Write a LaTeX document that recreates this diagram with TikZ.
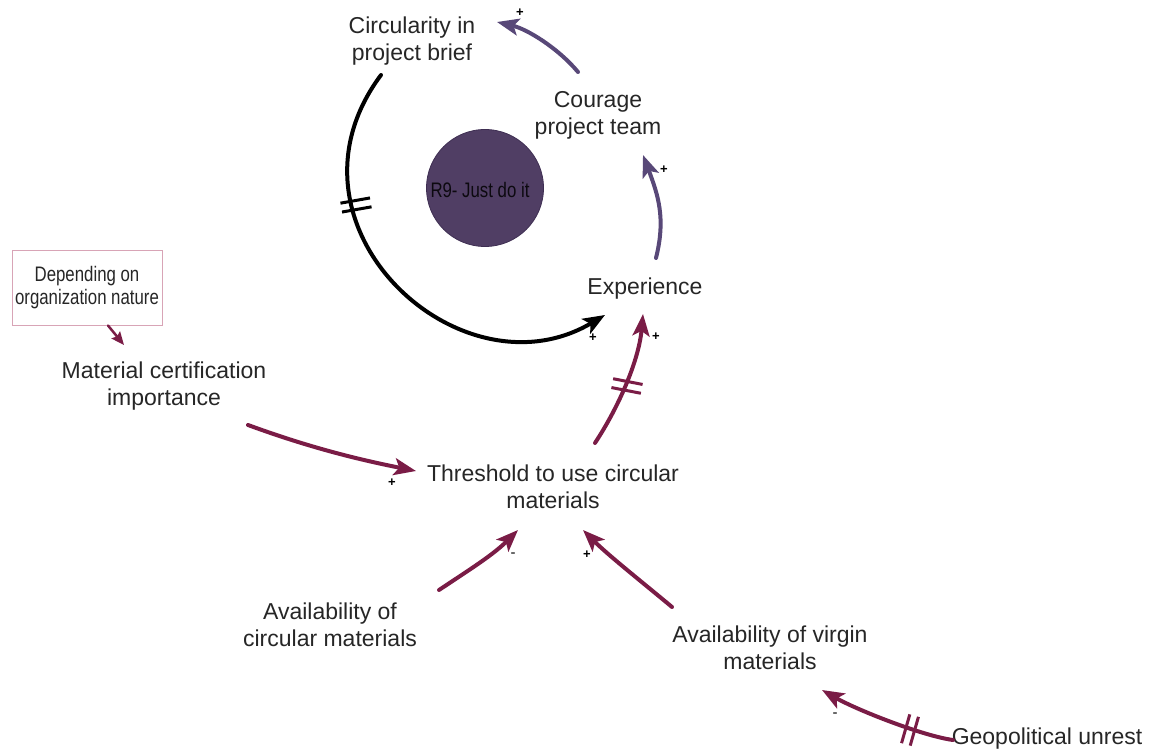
\documentclass[tikz,border=0pt]{standalone}
\usepackage{fontspec}
\setmainfont{Liberation Sans}
\newfontfamily\narrowfont[FakeStretch=0.8]{Liberation Sans}
\usetikzlibrary{arrows.meta,calc}

\definecolor{linkred}{HTML}{7A1C46}
\definecolor{linkpurple}{HTML}{584878}
\definecolor{loopfill}{HTML}{503E64}
\definecolor{loopedge}{HTML}{3E2E52}
\definecolor{notepink}{HTML}{D8A4B6}
\definecolor{labelgray}{HTML}{262626}

\tikzset{
  var/.style={align=center, inner sep=0pt, text=labelgray,
    font=\fontsize{23}{27}\selectfont},
  link/.style={line width=4pt, line cap=round,
    -{Stealth[length=22pt,width=17pt,inset=5pt]}},
  redlink/.style={link, draw=linkred},
  purplelink/.style={link, draw=linkpurple},
  blacklink/.style={link, draw=black},
  sign/.style={inner sep=0pt, font=\fontsize{13}{13}\selectfont\bfseries},
  negsign/.style={inner sep=0pt, font=\fontsize{15}{15}\selectfont},
  delaymark/.pic={
    \draw[line width=3pt, pic actions] (-15,-4.5) -- (15,-4.5) (-15,4.5) -- (15,4.5);
  }
}

\begin{document}
\begin{tikzpicture}[x=1pt,y=-1pt]
\useasboundingbox (0,0) rectangle (1152,754);

% loop marker
\node[circle, fill=loopfill, draw=loopedge, line width=0.8pt,
      minimum size=117pt, inner sep=0pt] (r9) at (485,188) {};
\node[inner sep=0pt, text=black!85!loopfill,
      font=\narrowfont\fontsize{21}{23}\selectfont] (r9label) at (480,190) {R9- Just do it};

% variables
\node[var] (circ) at (412,41)  {Circularity in\\project brief};
\node[var] (cour) at (598,115) {Courage\\project team};
\node[var] (exp)  at (645,289) {Experience};
\node[var] (mci)  at (164,386) {Material certification\\importance};
\node[var] (thr)  at (553,487) {Threshold to use circular\\materials};
\node[var] (avc)  at (330,625) {Availability of\\circular materials};
\node[var] (avv)  at (770,648) {Availability of virgin\\materials};
\node[var] (geo)  at (1047,739) {Geopolitical unrest};

% note box
\node[draw=notepink, line width=0.8pt, minimum width=150pt, minimum height=75pt,
      inner sep=0pt, align=center, text=labelgray,
      font=\narrowfont\fontsize{21}{23}\selectfont] (dep) at (87,287.5)
      {Depending on\\organization nature};

% reinforcing loop
\draw[blacklink] ($(circ)+(-31,34)$) .. controls +(-112,150) and +(-145,86) .. ($(exp)+(-40,26)$);
\draw[purplelink] ($(exp)+(11,-31)$) .. controls +(10,-40) and +(15,40) .. ($(cour)+(45,40)$);
\draw[purplelink] ($(cour)+(-20,-43)$) .. controls +(-20,-24) and +(30,7) .. ($(circ)+(85,-19)$);

% external influences
\draw[redlink] ($(thr)+(42,-44)$) .. controls +(25,-38) and +(-4,45) .. ($(exp)+(-2,25)$);
\draw[redlink] ($(mci)+(84,39)$) .. controls +(60,22) and +(-60,-12) .. ($(thr)+(-137,-16)$);
\draw[redlink] ($(avc)+(109,-35)$) .. controls +(30,-20) and +(-25,25) .. ($(thr)+(-35,43)$);
\draw[redlink] ($(avv)+(-98,-41)$) .. controls +(-30,-25) and +(25,25) .. ($(thr)+(30,43)$);
\draw[redlink] ($(geo)+(-94,1)$) .. controls +(-30,-4) and +(35,20) .. ($(avv)+(52,42)$);
\draw[draw=linkred, line width=2.5pt, line cap=round,
      -{Stealth[length=13pt,width=11pt,inset=2pt]}] ($(dep)+(21,38)$) -- ($(mci)+(-40,-41)$);

% delay marks
\pic[draw=black, rotate=10] at (356,205) {delaymark};
\pic[draw=linkred, rotate=-11] at (627,386) {delaymark};
\pic[draw=linkred, rotate=74] at (910,730) {delaymark};

% polarities
\node[sign] (p1) at (593,338) {+};
\node[sign] (p2) at (656,337) {+};
\node[sign] (p3) at (664,170) {+};
\node[sign] (p4) at (520,13)  {+};
\node[sign] (p5) at (392,483) {+};
\node[negsign] (m1) at (513,555) {-};
\node[sign] (p6) at (587,555) {+};
\node[negsign] (m2) at (835,715) {-};
\end{tikzpicture}
\end{document}
